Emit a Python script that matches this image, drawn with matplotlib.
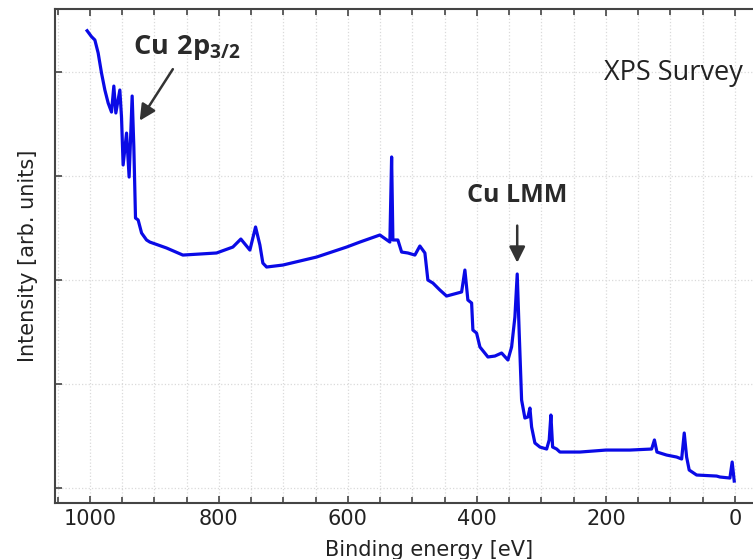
import matplotlib
matplotlib.use("Agg")
import matplotlib.pyplot as plt
from matplotlib.ticker import MultipleLocator, NullFormatter

energy = [1004.2, 997.4, 992.2, 987.1, 981.9, 976.7, 971.6, 966.4, 962.8, 959.7,
          953.5, 950.9, 948.4, 943.1, 939.1, 934.4, 931.8, 929.2, 925.1, 919.8,
          912.1, 907.0, 881.1, 855.8, 829.5, 803.6, 778.3, 765.9, 751.9, 743.1,
          736.4, 731.8, 726.0, 700.8, 648.5, 602.0, 581.4, 550.4, 534.9, 532.2,
          530.2, 522.5, 516.7, 507.0, 496.1, 488.4, 480.6, 476.0, 468.2, 457.4,
          447.0, 423.7, 418.6, 414.0, 408.2, 406.2, 400.5, 395.3, 382.9, 372.1,
          361.7, 351.9, 346.2, 341.1, 337.5, 334.4, 330.7, 325.6, 320.9, 317.8,
          315.2, 310.1, 302.3, 291.9, 287.9, 285.3, 282.6, 276.4, 271.3, 240.3,
          200.0, 162.8, 129.1, 124.8, 120.9, 105.9, 90.4, 82.6, 78.6, 74.9,
          70.9, 59.4, 28.4, 23.3, 7.8, 4.3, 1.1]
intensity = [4.397, 4.340, 4.308, 4.183, 3.990, 3.827, 3.702, 3.615, 3.865, 3.606,
             3.827, 3.567, 3.106, 3.413, 2.990, 3.769, 3.279, 2.596, 2.577, 2.452,
             2.385, 2.365, 2.308, 2.240, 2.250, 2.260, 2.317, 2.394, 2.288, 2.510,
             2.337, 2.163, 2.125, 2.144, 2.221, 2.317, 2.365, 2.433, 2.365, 3.183,
             2.385, 2.385, 2.269, 2.260, 2.240, 2.327, 2.260, 2.000, 1.971, 1.904,
             1.846, 1.885, 2.096, 1.808, 1.779, 1.519, 1.490, 1.356, 1.260, 1.269,
             1.298, 1.231, 1.356, 1.644, 2.058, 1.490, 0.846, 0.673, 0.683, 0.769,
             0.587, 0.433, 0.394, 0.375, 0.462, 0.702, 0.394, 0.375, 0.346, 0.346,
             0.365, 0.365, 0.375, 0.462, 0.346, 0.317, 0.298, 0.279, 0.529, 0.298,
             0.173, 0.125, 0.115, 0.106, 0.096, 0.250, 0.067]

x_ticks = [0, 200, 400, 600, 800, 1000]
y_ticks = [0, 1, 2, 3, 4]

plt.rcParams['mathtext.fontset'] = 'custom'
plt.rcParams['mathtext.bf'] = 'Open Sans:bold'
plt.rcParams['mathtext.rm'] = 'Open Sans'

fig = plt.figure(figsize=(7.53, 5.59), dpi=100)
ax = fig.add_axes([55/753, 56/559, 698/753, 494/559])

ax.plot(energy, intensity, color='#0a0ae6', lw=2.3, solid_joinstyle='round')

ax.set_xlim(1054, -28)
ax.set_ylim(-0.144, 4.606)
ax.set_xticks(x_ticks)
ax.xaxis.set_minor_locator(MultipleLocator(50))
ax.set_yticks(y_ticks)
ax.yaxis.set_major_formatter(NullFormatter())

ax.grid(True, which='both', axis='x', color='#dadada', ls=':', lw=0.9)
ax.grid(True, which='major', axis='y', color='#dadada', ls=':', lw=0.9)

for s in ['left', 'bottom', 'top']:
    ax.spines[s].set_color('#444444')
    ax.spines[s].set_linewidth(1.5)
ax.spines['right'].set_visible(False)

ax.tick_params(which='both', direction='in', top=True, right=False,
               color='#444444', width=1.2)
ax.tick_params(which='major', length=5, labelsize=15, labelcolor='#222222', pad=4)
ax.tick_params(which='minor', length=4)

ax.set_xlabel('Binding energy [eV]', fontsize=15, color='#222222')
ax.set_ylabel('Intensity [arb. units]', fontsize=15, color='#222222')
ax.xaxis.set_label_coords((429 - 55) / 698, -0.075)
ax.yaxis.set_label_coords(-0.024, 0.5)

arrow_kw = dict(arrowstyle='-|>', color='#333333', lw=1.8, mutation_scale=24)
ax.annotate('', xy=(925, 3.51), xytext=(869, 4.05), arrowprops=arrow_kw)
ax.text(850, 4.24, r'$\mathbf{Cu\ 2p_{3/2}}$', fontsize=19.5, color='#2a2a2a',
        ha='center', va='center')

ax.annotate('', xy=(337.5, 2.14), xytext=(337.5, 2.55), arrowprops=arrow_kw)
ax.text(337.5, 2.81, 'Cu LMM', fontsize=18, fontweight='bold', family='Open Sans',
        color='#2a2a2a', ha='center', va='center')

ax.text(96, 3.99, 'XPS Survey', fontsize=19.5, family='Open Sans',
        color='#222222', ha='center', va='center')

fig.savefig('out.png', dpi=100)
